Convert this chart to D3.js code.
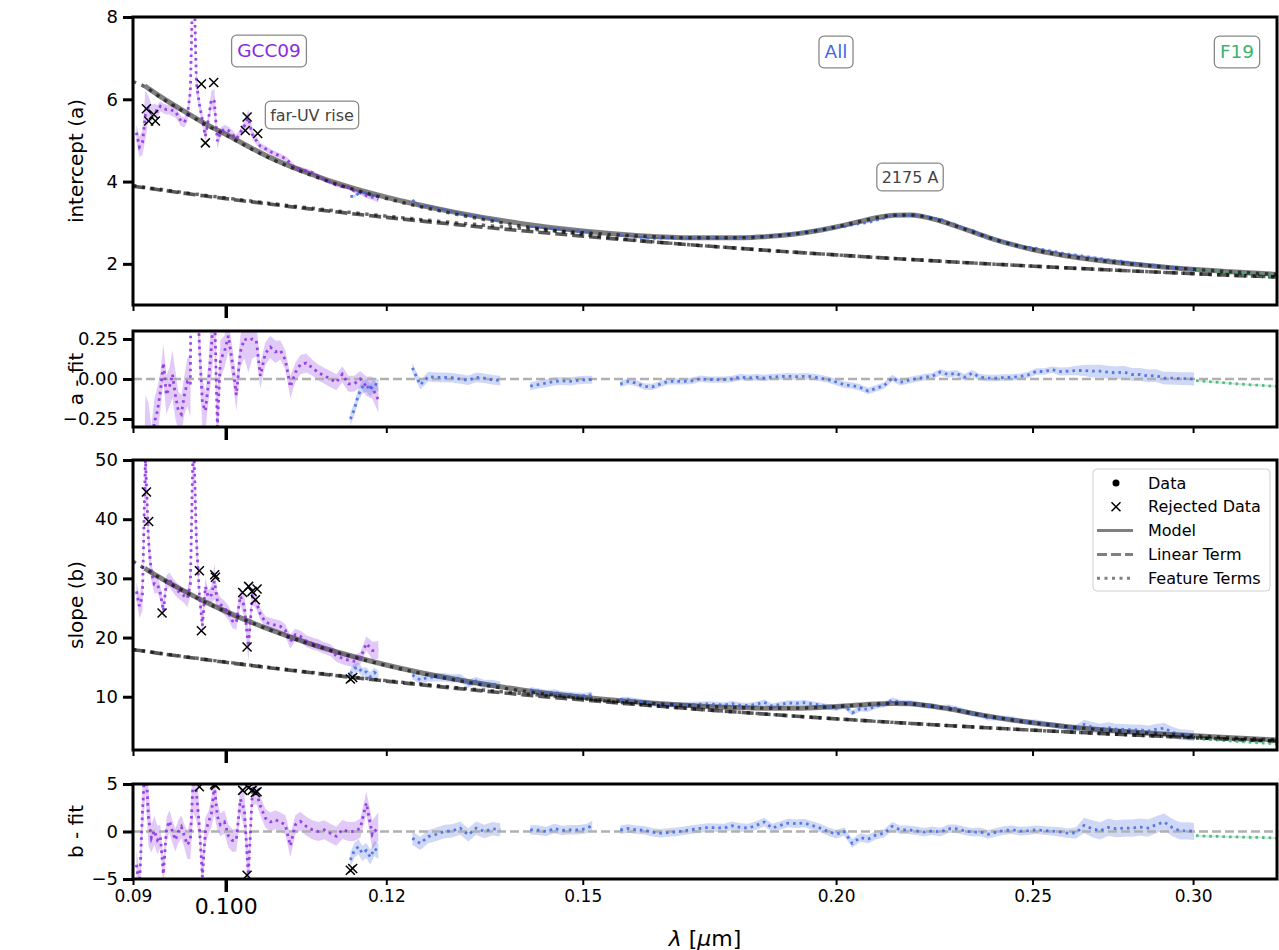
<!DOCTYPE html>
<html><head><meta charset="utf-8">
<script src="https://cdn.jsdelivr.net/npm/d3@7"></script>
<style>
html,body{margin:0;padding:0;background:#fff;}
svg{display:block;font-family:"DejaVu Sans",sans-serif;}
</style></head><body>
<svg id="chart" width="1279" height="950"></svg>
<script>
// ---------- fitted model on a wavelength grid (micron) ----------
const modelLam = [0.09,0.0912,0.0925,0.095,0.0975,0.10,0.105,0.11,0.115,0.12,0.13,
  0.14,0.15,0.16,0.17,0.18,0.185,0.19,0.195,0.20,0.205,
  0.21,0.2135,0.2175,0.225,0.23,0.235,0.24,0.245,0.25,0.26,
  0.275,0.29,0.31,0.33];
// the model itself is only evaluated over the measured range (first value unused)
const modelA = [null,6.33,6.12,5.76,5.43,5.15,4.60,4.19,3.87,3.62,3.245,
  2.976,2.796,2.685,2.633,2.637,2.664,2.714,2.792,2.897,3.020,
  3.132,3.182,3.188,3.047,2.890,2.728,2.579,2.454,2.349,2.190,
  2.032,1.924,1.822,1.744];
const linearA = [3.889,3.849,3.807,3.729,3.655,3.585,3.455,3.336,3.228,3.129,2.954,
  2.804,2.673,2.559,2.459,2.370,2.328,2.289,2.253,2.218,2.184,
  2.152,2.131,2.108,2.066,2.039,2.014,1.990,1.966,1.944,1.902,
  1.845,1.793,1.732,1.679];
const featFuvA = [6.43,6.31,6.10,5.745,5.415,5.13,4.58,4.167,3.843,3.589,3.202,
  2.918,2.714,2.567,2.459,2.370,2.328,2.289,2.253,2.218,2.184,
  2.152,2.131,2.108,2.066,2.039,2.014,1.990,1.966,1.944,1.902,
  1.845,1.793,1.732,1.679];
const featBumpA = [3.902,3.862,3.821,3.744,3.671,3.602,3.475,3.359,3.255,3.160,2.997,
  2.862,2.755,2.676,2.633,2.637,2.664,2.714,2.792,2.897,3.020,
  3.132,3.182,3.188,3.047,2.890,2.728,2.579,2.454,2.349,2.190,
  2.032,1.924,1.822,1.744];
const modelB = [null,31.70,30.41,28.18,26.19,24.42,21.42,18.98,17.01,15.37,12.90,
  11.16,9.926,9.058,8.482,8.142,8.064,8.065,8.157,8.341,8.587,
  8.805,8.872,8.797,8.201,7.619,7.022,6.475,6.00,5.59,4.941,
  4.231,3.70,3.148,2.698];
const linearB = [17.943,17.69,17.37,16.825,16.31,15.82,14.91,14.083,13.328,12.635,11.41,
  10.36,9.45,8.654,7.951,7.327,7.04,6.768,6.51,6.265,6.032,
  5.81,5.661,5.497,5.203,5.019,4.841,4.673,4.51,4.354,4.06,
  3.658,3.299,2.875,2.50];
const featFuvB = [32.88,31.66,30.37,28.135,26.14,24.37,21.36,18.91,16.93,15.275,12.767,
  10.981,9.676,8.699,7.951,7.327,7.04,6.768,6.51,6.265,6.032,
  5.81,5.661,5.497,5.203,5.019,4.841,4.673,4.51,4.354,4.06,
  3.658,3.299,2.875,2.50];
const featBumpB = [17.98,17.73,17.41,16.87,16.36,15.87,14.97,14.15,13.41,12.73,11.54,
  10.54,9.70,9.013,8.482,8.142,8.064,8.065,8.157,8.341,8.587,
  8.805,8.872,8.797,8.201,7.619,7.022,6.475,6.00,5.59,4.941,
  4.231,3.70,3.148,2.698];

// ---------- GCC09 (FUSE) spectrum ----------
const gccLam = [0.09035,0.09066,0.09097,0.09128,0.09159,0.09190,0.09221,0.09253,0.09284,0.09316,
  0.09348,0.09380,0.09412,0.09444,0.09476,0.09508,0.09541,0.09573,0.09606,0.09639,
  0.09672,0.09705,0.09738,0.09771,0.09804,0.09838,0.09871,0.09905,0.09939,0.09984,
  0.10030,0.10075,0.10121,0.10167,0.10213,0.10260,0.10307,0.10353,0.10400,0.10460,
  0.10519,0.10579,0.10639,0.10700,0.10761,0.10822,0.10884,0.10958,0.11033,0.11108,
  0.11184,0.11261,0.11338,0.11415,0.11493,0.11572,0.11651,0.11731,0.11811,0.11892];
const gccA = [5.19,4.84,4.95,5.62,5.78,5.66,5.74,5.71,5.83,5.78,
  5.75,5.75,5.73,5.71,5.57,5.46,5.44,5.60,6.20,9.5,
  6.40,5.88,5.50,5.10,5.50,6.00,5.95,4.98,5.19,5.28,
  5.24,5.15,5.04,5.19,5.35,5.55,5.14,5.00,4.86,4.80,
  4.73,4.67,4.62,4.56,4.45,4.33,4.30,4.26,4.22,4.13,
  4.05,3.98,3.92,3.88,3.86,3.77,3.73,3.66,3.62,3.57];
const gccAres = [-1.2,-1.5,-1.4,-0.7,-0.45,-0.5,-0.27,-0.2,-0.08,0.1,
  -0.1,-0.05,0.03,-0.1,-0.2,-0.22,-0.1,-0.02,-0.04,3.9,
  0.8,0.2,-0.15,-0.2,-0.03,0.2,0.5,-0.3,0.12,0.17,
  0.27,0.1,-0.1,0.17,0.25,0.24,0.25,0.24,0.02,0.16,
  0.2,0.17,0.18,0.12,-0.05,0.04,0.09,0.1,0.07,0.04,
  0.02,0.0,-0.02,0.03,-0.03,-0.03,0.0,-0.045,-0.055,-0.13];
const gccAunc = [0.2,0.25,0.3,0.6,0.3,0.2,0.15,0.15,0.12,0.12,
  0.12,0.12,0.15,0.15,0.12,0.12,0.12,0.15,0.2,0.4,
  0.3,0.15,0.15,0.12,0.12,0.2,0.3,0.2,0.12,0.1,
  0.1,0.1,0.1,0.1,0.12,0.2,0.12,0.1,0.08,0.07,
  0.07,0.07,0.06,0.06,0.07,0.06,0.06,0.06,0.05,0.05,
  0.05,0.05,0.05,0.05,0.05,0.05,0.05,0.06,0.07,0.08];
const gccB = [27.8,25.3,27.0,50.5,36.5,31.0,29.0,29.0,27.5,24.5,
  29.3,29.8,29.0,28.3,27.8,27.4,27.0,26.6,29.0,55,
  36.5,27.2,22.0,28.6,26.8,27.2,29.5,26.3,25.6,25.0,
  24.2,22.8,22.5,27.0,25.3,18.5,27.0,26.0,24.0,22.6,
  22.3,22.1,21.9,21.2,19.3,20.5,20.2,19.4,19.0,18.7,
  18.2,17.9,16.9,16.5,16.2,16.0,16.5,19.0,17.8,17.9];
const gccBres = [-3.5,-6,2.0,8,1.5,-0.7,0.1,-0.9,-0.5,-4.5,
  0.2,1.1,0.0,-0.9,0.0,0.5,-0.5,-1.4,-0.9,6,
  4.1,0.5,-4.8,0.0,0.9,1.9,4.8,1.6,0.7,1.0,
  -0.45,-0.95,-0.9,3.4,2.3,-4.6,4.25,4.1,2.7,1.4,
  1.0,1.24,1.0,0.7,-1.5,0.7,1.07,0.54,0.18,0.0,
  0.18,-0.18,-0.5,0.2,0.0,0.0,0.35,3.0,-0.35,0.5];
const gccBunc = [1.5,2,2.5,4,3,1.5,1.5,1.5,1.2,1.5,
  1.2,1.2,1.2,1.2,1.2,1.2,1.2,1.5,2,4,
  3,1.5,2,1.5,1.2,1.5,3,1.5,1.2,1.2,
  1.2,1.2,1.2,1.5,2,2.5,1.5,1.2,1,1,
  1,1,1,1,1.2,1,1,1,1,1,
  1,1,1,1,1,1,1,1.2,1.5,1.5];

// ---------- combined IUE/STIS spectrum ("All") ----------
const allLam = [0.11520,0.11572,0.11625,0.11678,0.11731,0.11784,0.11838,0.11892,
  0.12360,0.12472,0.12586,0.12701,0.12817,0.12934,0.13052,0.13171,0.13291,0.13412,0.13535,0.13658,
  0.14131,0.14260,0.14390,0.14522,0.14654,0.14788,0.14923,0.15059,0.15162,
  0.15652,0.15795,0.15939,0.16085,0.16231,0.16379,0.16529,0.16680,0.16832,0.16985,
  0.17141,0.17297,0.17455,0.17614,0.17775,0.17937,0.18100,0.18266,0.18433,0.18600,
  0.18770,0.18942,0.19115,0.19289,0.19465,0.19643,0.19822,0.20003,0.20185,0.20370,
  0.20556,0.20743,0.20932,0.21123,0.21316,0.21511,0.21707,0.21905,0.22104,0.22306,
  0.22510,0.22716,0.22923,0.23132,0.23343,0.23556,0.23771,0.23988,0.24207,0.24427,
  0.24650,0.24875,0.25102,0.25331,0.25562,0.25796,0.26031,0.26268,0.26508,0.26750,
  0.26994,0.27241,0.27489,0.27740,0.27993,0.28249,0.28506,0.28766,0.29028,0.29294,
  0.29560,0.29830,0.30034];
const allA = [3.64,3.64,3.71,3.73,3.71,3.67,3.67,3.63,
  3.552,3.400,3.406,3.358,3.316,3.274,3.228,3.183,3.165,3.126,3.083,3.046,
  2.903,2.887,2.871,2.858,2.838,2.813,2.800,2.784,2.770,
  2.685,2.688,2.664,2.631,2.619,2.626,2.635,2.628,2.622,2.622,
  2.632,2.624,2.623,2.624,2.630,2.647,2.646,2.659,2.665,2.685,
  2.703,2.724,2.744,2.772,2.800,2.825,2.852,2.879,2.905,2.947,
  2.981,3.004,3.062,3.113,3.185,3.170,3.181,3.175,3.154,3.116,
  3.087,3.010,2.951,2.857,2.813,2.721,2.651,2.589,2.534,2.482,
  2.435,2.400,2.377,2.337,2.311,2.266,2.236,2.210,2.182,2.152,
  2.127,2.098,2.071,2.055,2.020,2.002,1.975,1.960,1.929,1.913,
  1.894,1.880,1.867];
const allAres = [-0.25,-0.19,-0.10,-0.05,-0.04,-0.07,-0.03,-0.04,
  0.07,-0.036,0.015,0.01,0.01,0.008,0.0,-0.008,0.01,0.005,-0.005,-0.01,
  -0.045,-0.035,-0.026,-0.015,-0.012,-0.015,-0.008,-0.004,-0.004,
  -0.032,-0.015,-0.026,-0.047,-0.049,-0.032,-0.015,-0.015,-0.015,-0.011,
  0.002,-0.004,-0.004,-0.004,0.0,0.013,0.006,0.011,0.006,0.013,
  0.015,0.017,0.015,0.017,0.015,0.006,-0.004,-0.019,-0.036,-0.041,
  -0.053,-0.075,-0.058,-0.041,0.006,-0.021,-0.009,0.002,0.011,0.017,
  0.043,0.028,0.036,0.011,0.036,0.011,0.006,0.006,0.009,0.011,
  0.015,0.026,0.047,0.047,0.058,0.047,0.049,0.053,0.053,0.049,
  0.049,0.043,0.038,0.043,0.028,0.028,0.019,0.021,0.006,0.006,
  0.002,0.002,0.0];
const allAunc = [0.04,0.04,0.04,0.04,0.04,0.04,0.04,0.04,
  0.03,0.03,0.03,0.03,0.03,0.03,0.03,0.03,0.03,0.03,0.03,0.03,
  0.025,0.025,0.025,0.025,0.025,0.025,0.025,0.025,0.025,
  0.02,0.02,0.02,0.02,0.02,0.02,0.02,0.02,0.02,0.02,
  0.02,0.02,0.02,0.02,0.02,0.02,0.02,0.02,0.02,0.02,
  0.02,0.02,0.02,0.02,0.02,0.02,0.02,0.02,0.02,0.02,
  0.02,0.02,0.02,0.02,0.02,0.02,0.02,0.02,0.02,0.02,
  0.02,0.02,0.02,0.02,0.02,0.02,0.02,0.02,0.02,0.02,
  0.02,0.02,0.02,0.02,0.02,0.025,0.025,0.03,0.035,0.04,
  0.04,0.04,0.04,0.04,0.04,0.04,0.04,0.04,0.04,0.04,
  0.04,0.04,0.04];
const allB = [13.9,14.8,15.0,14.1,14.2,13.4,14.1,13.6,
  13.67,12.84,13.28,13.26,13.29,13.11,13.15,12.20,12.69,12.11,12.18,11.87,
  11.15,10.94,10.63,10.78,10.42,10.33,10.19,10.16,10.40,
  9.50,9.53,9.28,9.14,8.83,8.63,8.61,8.60,8.63,8.70,
  8.74,8.79,8.69,8.61,8.81,8.59,8.48,8.73,9.07,8.42,
  8.69,8.95,8.90,9.00,8.79,8.56,8.27,8.05,8.43,7.27,
  7.97,7.91,8.42,8.66,9.41,9.04,8.99,8.79,8.51,8.47,
  8.12,8.25,8.00,7.53,7.14,6.92,6.43,6.42,6.38,6.24,
  5.91,5.76,5.70,5.47,5.24,5.02,4.75,4.66,5.31,4.85,
  4.52,4.77,4.53,4.50,4.40,4.41,4.22,4.49,4.69,4.04,
  3.60,3.52,3.40];
const allBres = [-3.0,-2.0,-1.6,-2.3,-2.0,-2.7,-1.8,-2.1,
  -0.71,-1.25,-0.54,-0.29,0.0,0.07,0.36,-0.36,0.36,0.0,0.29,0.18,
  0.18,0.14,0.0,0.32,0.11,0.18,0.18,0.29,0.64,
  0.18,0.32,0.18,0.14,-0.07,-0.18,-0.11,-0.04,0.07,0.21,
  0.32,0.43,0.39,0.36,0.61,0.43,0.36,0.64,1.0,0.36,
  0.64,0.89,0.82,0.89,0.64,0.36,0.0,-0.29,0.0,-1.25,
  -0.64,-0.79,-0.36,-0.18,0.54,0.18,0.18,0.07,-0.07,0.07,
  -0.07,0.29,0.29,0.07,-0.07,-0.04,-0.29,-0.07,0.11,0.18,
  0.04,0.07,0.18,0.11,0.04,-0.04,-0.18,-0.14,0.64,0.29,
  0.07,0.43,0.29,0.36,0.36,0.46,0.36,0.71,1.0,0.43,
  0.07,0.07,0.0];
const allBunc = [0.8,0.8,0.8,0.8,0.8,0.8,0.8,0.8,
  0.7,0.7,0.7,0.7,0.7,0.7,0.7,0.7,0.7,0.7,0.7,0.7,
  0.5,0.5,0.5,0.5,0.5,0.5,0.5,0.5,0.5,
  0.45,0.45,0.45,0.45,0.45,0.45,0.45,0.45,0.45,0.45,
  0.45,0.45,0.45,0.45,0.45,0.45,0.45,0.45,0.45,0.45,
  0.45,0.45,0.45,0.45,0.45,0.45,0.45,0.45,0.45,0.45,
  0.45,0.45,0.45,0.45,0.45,0.45,0.45,0.45,0.45,0.45,
  0.45,0.45,0.45,0.45,0.45,0.45,0.45,0.45,0.45,0.45,
  0.45,0.45,0.45,0.45,0.45,0.5,0.5,0.6,0.8,0.9,
  0.9,0.9,0.9,0.9,0.9,0.9,0.9,0.9,0.9,0.9,
  0.9,0.9,0.9];

// ---------- F19 spectrum ----------
const f19Lam = [0.30102,0.30446,0.30794,0.31146,0.31502,0.31862,0.32226,0.32595,0.32967];
const f19A = [1.854,1.832,1.811,1.790,1.770,1.752,1.734,1.716,1.699];
const f19Ares = [-0.010,-0.015,-0.020,-0.025,-0.030,-0.034,-0.038,-0.042,-0.046];
const f19Aunc = [0.006,0.006,0.006,0.006,0.006,0.006,0.006,0.006,0.006];
const f19B = [2.95,2.79,2.70,2.56,2.46,2.34,2.24,2.14,2.01];
const f19Bres = [-0.43,-0.50,-0.50,-0.55,-0.57,-0.60,-0.62,-0.64,-0.70];
const f19Bunc = [0.1,0.1,0.1,0.1,0.1,0.1,0.1,0.1,0.1];

// ---------- points rejected from the fit ----------
const rejLamA = [0.09138,0.09162,0.09214,0.09232,0.09727,0.09864,0.09771,0.10245,0.10225,0.10369];
const rejA = [5.77,5.47,5.63,5.47,6.37,6.41,4.94,5.57,5.24,5.17];
const rejAres = [-0.59,-0.87,-0.63,-0.78,0.91,1.1,-0.48,0.68,0.33,0.38];
const rejLamB = [0.09138,0.09162,0.09302,0.09705,0.09727,0.09875,0.09883,0.10194,0.10263,0.10303,0.10362,0.10342,0.10245,0.11520,0.11550];
const rejB = [44.6,39.6,24.15,31.3,21.15,30.6,30.2,27.6,28.65,27.8,28.2,26.4,18.4,13.0,13.25];
const rejBres = [12.0,8.0,-6.0,4.72,-5.5,4.97,4.85,4.33,4.6,4.33,4.19,4.1,-4.6,-4.07,-3.9];

// ---------- axis ticks ----------
const xMajorTicks = [0.1];
const xMajorLabels = ["0.100"];
const xMinorTicks = [0.09,0.12,0.15,0.2,0.25,0.3];
const xMinorLabels = ["0.09","0.12","0.15","0.20","0.25","0.30"];
const aTicks = [2,4,6,8],            aTickLabels = ["2","4","6","8"];
const aResTicks = [-0.25,0,0.25],    aResTickLabels = ["\u22120.25","0.00","0.25"];
const bTicks = [10,20,30,40,50],     bTickLabels = ["10","20","30","40","50"];
const bResTicks = [-5,0,5],          bResTickLabels = ["\u22125","0","5"];

// ---------- drawing ----------
const PURPLE = "#8a2be2", BLUE = "#4169e1", GREEN = "#3cb371";
const FONT = "DejaVu Sans, sans-serif";
const svg = d3.select("#chart");
const XL = 133, XR = 1277;
const x = d3.scaleLog().domain([0.09, 0.33]).range([XL, XR]);

const panels = [
  {id:"a", top:17, bottom:305, domain:[1,8], ticks:aTicks, tickLabels:aTickLabels, title:"intercept (a)", resid:false,
   series:[[gccLam,gccA,gccAunc,PURPLE],[allLam,allA,allAunc,BLUE],[f19Lam,f19A,f19Aunc,GREEN]],
   rej:[rejLamA,rejA], model:[modelA,linearA,featFuvA,featBumpA]},
  {id:"ar", top:331, bottom:427, domain:[-0.3,0.3], ticks:aResTicks, tickLabels:aResTickLabels, title:"a - fit", resid:true,
   series:[[gccLam,gccAres,gccAunc,PURPLE],[allLam,allAres,allAunc,BLUE],[f19Lam,f19Ares,f19Aunc,GREEN]],
   rej:[rejLamA,rejAres]},
  {id:"b", top:460, bottom:750, domain:[1,50], ticks:bTicks, tickLabels:bTickLabels, title:"slope (b)", resid:false,
   series:[[gccLam,gccB,gccBunc,PURPLE],[allLam,allB,allBunc,BLUE],[f19Lam,f19B,f19Bunc,GREEN]],
   rej:[rejLamB,rejB], model:[modelB,linearB,featFuvB,featBumpB]},
  {id:"br", top:784, bottom:879, domain:[-5,5], ticks:bResTicks, tickLabels:bResTickLabels, title:"b - fit", resid:true,
   series:[[gccLam,gccBres,gccBunc,PURPLE],[allLam,allBres,allBunc,BLUE],[f19Lam,f19Bres,f19Bunc,GREEN]],
   rej:[rejLamB,rejBres]}
];

// split a spectrum into contiguous pieces wherever the sampling jumps
function pieces(lam, v, u){
  const out = []; let cur = [];
  lam.forEach((l,i) => {
    if (i > 0 && l / lam[i-1] > 1.02) { out.push(cur); cur = []; }
    cur.push({l, v:v[i], u:u[i]});
  });
  out.push(cur);
  return out;
}

const defs = svg.append("defs");
const xMark = (s) => `M${-s},${-s}L${s},${s}M${-s},${s}L${s},${-s}`;

panels.forEach((p, pi) => {
  const y = d3.scaleLinear().domain(p.domain).range([p.bottom, p.top]);
  defs.append("clipPath").attr("id", "clip-" + p.id)
    .append("rect").attr("x", XL).attr("y", p.top).attr("width", XR - XL).attr("height", p.bottom - p.top);
  const g = svg.append("g").attr("clip-path", `url(#clip-${p.id})`);

  // uncertainty bands
  const area = d3.area().x(d => x(d.l)).y0(d => y(d.v - d.u)).y1(d => y(d.v + d.u));
  p.series.forEach(([lam, v, u, col]) => {
    pieces(lam, v, u).forEach(seg => {
      g.append("path").attr("d", area(seg)).attr("fill", col).attr("fill-opacity", 0.25).attr("stroke", "none");
    });
  });

  if (p.resid) {
    g.append("line").attr("x1", XL).attr("x2", XR).attr("y1", y(0)).attr("y2", y(0))
      .attr("stroke", "#b0b0b0").attr("stroke-width", 2.5).attr("stroke-dasharray", "9,4");
  }

  const mline = d3.line().defined(d => d[1] != null).x(d => x(d[0])).y(d => y(d[1])).curve(d3.curveMonotoneX);
  const pts = arr => modelLam.map((l, i) => [l, arr[i]]);

  // model and linear term underneath the measurements
  if (p.model) {
    const [mod, lin] = p.model;
    g.append("path").attr("d", mline(pts(mod).filter(d => d[1] != null)))
      .attr("fill", "none").attr("stroke", "#000").attr("stroke-opacity", 0.5).attr("stroke-width", 5);
    g.append("path").attr("d", mline(pts(lin))).attr("fill", "none").attr("stroke", "#000")
      .attr("stroke-opacity", 0.65).attr("stroke-width", 3.6).attr("stroke-dasharray", "12,5");
  }

  // measured curves, drawn as dotted lines
  const line = d3.line().x(d => x(d.l)).y(d => y(d.v));
  p.series.forEach(([lam, v, u, col]) => {
    pieces(lam, v, u).forEach(seg => {
      g.append("path").attr("d", line(seg)).attr("fill", "none").attr("stroke", col)
        .attr("stroke-opacity", 0.85).attr("stroke-width", 2.8).attr("stroke-dasharray", "2.6,4");
    });
  });

  // feature terms on top
  if (p.model) {
    const [, , fuv, bump] = p.model;
    [fuv, bump].forEach(arr => {
      g.append("path").attr("d", mline(pts(arr))).attr("fill", "none").attr("stroke", "#000")
        .attr("stroke-opacity", 0.6).attr("stroke-width", 3.4).attr("stroke-dasharray", "3.4,5.6");
    });
  }

  // rejected points
  const [rl, rv] = p.rej;
  g.selectAll(null).data(rl.map((l, i) => [l, rv[i]])).enter().append("path")
    .attr("transform", d => `translate(${x(d[0])},${y(d[1])})`)
    .attr("d", xMark(4.5)).attr("stroke", "#000").attr("stroke-width", 1.5).attr("fill", "none");

  // y axis
  const gy = svg.append("g").attr("transform", `translate(${XL},0)`)
    .call(d3.axisLeft(y).tickValues(p.ticks).tickSize(10).tickPadding(5).tickFormat((d, i) => p.tickLabels[i]));
  gy.select(".domain").remove();
  gy.selectAll("line").attr("stroke", "#000").attr("stroke-width", 3);
  gy.selectAll("text").attr("font-size", 18).attr("font-family", FONT).attr("fill", "#000");

  // x ticks (labels on the bottom panel only)
  const last = pi === panels.length - 1;
  const gmaj = svg.append("g").attr("transform", `translate(0,${p.bottom})`)
    .call(d3.axisBottom(x).tickValues(xMajorTicks).tickSize(13).tickPadding(6)
      .tickFormat((d, i) => last ? xMajorLabels[i] : ""));
  gmaj.select(".domain").remove();
  gmaj.selectAll("line").attr("stroke", "#000").attr("stroke-width", 3.5);
  gmaj.selectAll("text").attr("font-size", 22).attr("font-family", FONT).attr("fill", "#000");
  const gmin = svg.append("g").attr("transform", `translate(0,${p.bottom})`)
    .call(d3.axisBottom(x).tickValues(xMinorTicks).tickSize(6).tickPadding(5)
      .tickFormat((d, i) => last ? xMinorLabels[i] : ""));
  gmin.select(".domain").remove();
  gmin.selectAll("line").attr("stroke", "#000").attr("stroke-width", 2);
  gmin.selectAll("text").attr("font-size", 17).attr("font-family", FONT).attr("fill", "#000");

  // frame
  svg.append("rect").attr("x", XL).attr("y", p.top).attr("width", XR - XL).attr("height", p.bottom - p.top)
    .attr("fill", "none").attr("stroke", "#000").attr("stroke-width", 3);

  // y label
  svg.append("text").attr("transform", `translate(76,${(p.top + p.bottom) / 2}) rotate(-90)`)
    .attr("text-anchor", "middle").attr("dy", "0.35em").attr("font-size", 20).attr("font-family", FONT)
    .text(p.title);
});

// x label
const xl = svg.append("text").attr("x", 705).attr("y", 946).attr("text-anchor", "middle")
  .attr("font-size", 22).attr("font-family", FONT);
xl.append("tspan").attr("font-style", "italic").text("\u03bb");
xl.append("tspan").text(" [");
xl.append("tspan").attr("font-style", "italic").text("\u03bc");
xl.append("tspan").text("m]");

// boxed annotations in the top panel
function boxed(cx, cy, str, color, size){
  const gg = svg.append("g");
  const t = gg.append("text").attr("x", cx).attr("y", cy).attr("text-anchor", "middle").attr("dy", "0.35em")
    .attr("font-size", size).attr("font-family", FONT).attr("fill", color).text(str);
  const bb = t.node().getBBox();
  const pad = size * 0.3;
  gg.insert("rect", "text").attr("x", bb.x - pad).attr("y", cy - size * 0.5 - pad - 1)
    .attr("width", bb.width + 2 * pad).attr("height", size + 2 * pad + 2).attr("rx", 5)
    .attr("fill", "#fff").attr("fill-opacity", 0.9).attr("stroke", "#888").attr("stroke-width", 1.3);
}
boxed(269, 51, "GCC09", PURPLE, 18.5);
boxed(836, 52, "All", BLUE, 18.5);
boxed(1237, 52, "F19", GREEN, 18.5);
boxed(312, 115, "far-UV rise", "#444", 16);
boxed(910, 177, "2175 A", "#444", 16);

// legend
const lg = svg.append("g");
lg.append("rect").attr("x", 1093).attr("y", 469).attr("width", 177).attr("height", 122).attr("rx", 4)
  .attr("fill", "#fff").attr("fill-opacity", 0.8).attr("stroke", "#d0d0d0").attr("stroke-width", 1);
const legendItems = ["Data", "Rejected Data", "Model", "Linear Term", "Feature Terms"];
legendItems.forEach((name, i) => {
  const cy = 483 + i * 23.8;
  if (i === 0) lg.append("circle").attr("cx", 1116).attr("cy", cy).attr("r", 3.5).attr("fill", "#000");
  if (i === 1) lg.append("path").attr("transform", `translate(1116,${cy})`).attr("d", xMark(4.5))
    .attr("stroke", "#000").attr("stroke-width", 1.5);
  if (i >= 2) {
    const l = lg.append("line").attr("x1", 1097).attr("x2", 1133).attr("y1", cy).attr("y2", cy)
      .attr("stroke", "#000").attr("stroke-opacity", 0.5).attr("stroke-width", 3);
    if (i === 3) l.attr("stroke-dasharray", "10,4");
    if (i === 4) l.attr("stroke-dasharray", "3,4.5");
  }
  lg.append("text").attr("x", 1148).attr("y", cy).attr("dy", "0.35em").attr("font-size", 16)
    .attr("font-family", FONT).text(name);
});
</script>
</body></html>
